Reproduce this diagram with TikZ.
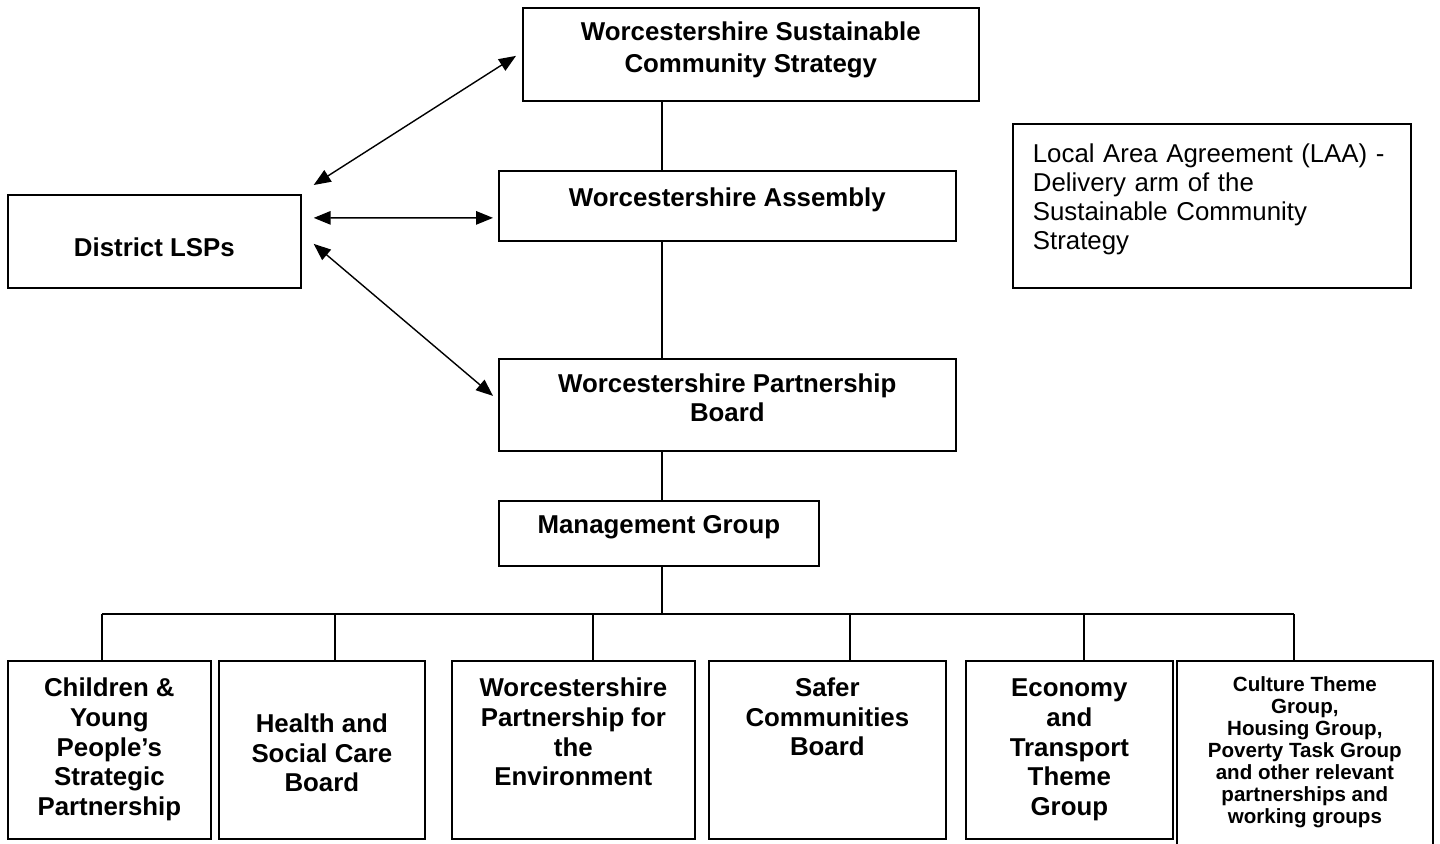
\documentclass[tikz,border=0pt]{standalone}
\usepackage{fontspec}
\setmainfont{Liberation Sans}
\usetikzlibrary{arrows.meta,calc,positioning}

\begin{document}
\begin{tikzpicture}[
        x=0.02cm, y=-0.02cm,
        box/.style={rectangle, draw=black, line width=1pt, align=center, inner xsep=2pt, inner ysep=0pt, anchor=north west, font=\fontsize{14.7}{17}\selectfont\bfseries},
        group/.style={box, minimum height=3.56cm},
        note/.style={rectangle, draw=black, line width=1pt, align=left, inner xsep=0.4cm, inner ysep=0pt, anchor=north west, text width=7.16cm, font=\fontsize{14.7}{16.5}\selectfont, text height=0.78cm, text depth=2.50cm},
        link/.style={{Triangle[length=0.34cm,width=0.27cm]}-{Triangle[length=0.34cm,width=0.27cm]}, line width=0.8pt},
        tie/.style={line width=0.8pt}
    ]
        \useasboundingbox (0,0) rectangle (1440,843);

        % Top of the structure
        \node[box, minimum width=9.12cm, text height=1.295cm, text depth=0.565cm, font=\fontsize{14.7}{18}\selectfont\bfseries] (wscs) at (522,7) {Worcestershire Sustainable\\Community Strategy};
        \node[box, minimum width=9.14cm, text height=0.72cm, text depth=0.68cm] (assembly) at (498,170) {Worcestershire Assembly};
        \node[box, minimum width=9.14cm, text height=1.26cm, text depth=0.58cm] (board) at (498,358) {Worcestershire Partnership\\Board};
        \node[box, minimum width=6.4cm, text height=0.66cm, text depth=0.64cm] (mgmt) at (498,500) {Management Group};

        \node[box, minimum width=5.86cm, text height=1.24cm, text depth=0.62cm] (lsps) at (7,194) {District LSPs};
        \node[note] (laa) at (1012,123) {Local Area Agreement (LAA) -\\Delivery arm of the\\Sustainable Community\\Strategy};

        % Theme groups (bottom row)
        \node[group, minimum width=4.06cm, text height=3.10cm, text depth=0.46cm] (cyp) at (7,660) {Children \&\\Young\\People’s\\Strategic\\Partnership};
        \node[group, minimum width=4.12cm, text height=2.62cm, text depth=0.94cm] (hsc) at (218,660) {Health and\\Social Care\\Board};
        \node[group, minimum width=4.86cm, text height=2.50cm, text depth=1.06cm] (wpe) at (451,660) {Worcestershire\\Partnership for\\the\\Environment};
        \node[group, minimum width=4.74cm, text height=1.90cm, text depth=1.66cm] (scb) at (708,660) {Safer\\Communities\\Board};
        \node[group, minimum width=4.14cm, text height=3.10cm, text depth=0.46cm] (ett) at (965,660) {Economy\\and\\Transport\\Theme\\Group};
        \node[group, minimum width=5.12cm, minimum height=4cm, text height=3.26cm, text depth=0.74cm, font=\fontsize{11.7}{12.6}\selectfont\bfseries] (rest) at (1176,660) {Culture Theme\\Group,\\Housing Group,\\Poverty Task Group\\and other relevant\\partnerships and\\working groups};

        % Spine
        \coordinate (spine) at (662,614);
        \draw[tie] (wscs.south -| spine) -- (assembly.north -| spine);
        \draw[tie] (assembly.south -| spine) -- (board.north -| spine);
        \draw[tie] (board.south -| spine) -- (mgmt.north -| spine);
        \draw[tie] (mgmt.south -| spine) -- (spine);

        % Bus to the groups
        \draw[tie] ($(cyp.north |- spine)+(-7.5,0)$) -- ($(rest.north |- spine)+(-11,0)$);
        \foreach \b/\dx in {cyp/-7.5, hsc/13, wpe/19.5, scb/22.5, ett/14.5, rest/-11} {
            \draw[tie] ($(\b.north |- spine)+(\dx,0)$) -- ($(\b.north)+(\dx,0)$);
        }

        % Links with the districts
        \draw[link] ($(lsps.north east)+(12,-9)$) -- ($(wscs.west)+(-6,1.5)$);
        \draw[link] ($(lsps.east)+(12,-23.5)$) -- ($(assembly.west)+(-5,12)$);
        \draw[link] ($(lsps.east)+(12,2.5)$) -- ($(board.west)+(-5,-9)$);

    \end{tikzpicture}
\end{document}
